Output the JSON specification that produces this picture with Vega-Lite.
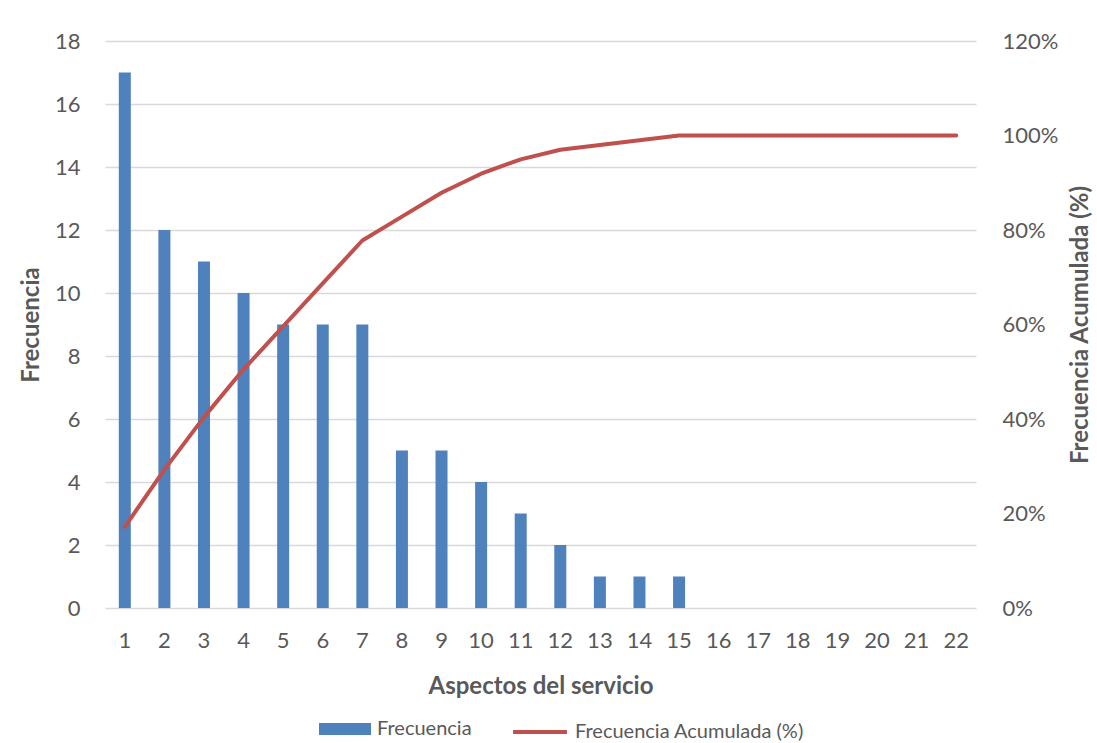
{
  "$schema": "https://vega.github.io/schema/vega-lite/v6.json",
  "width": 871,
  "height": 567,
  "autosize": {"type": "none"},
  "padding": {"left": 105, "top": 41, "right": 121, "bottom": 135},
  "background": "white",
  "data": {
    "values": [
      {"aspecto": 1, "frecuencia": 17, "acumulada": 0.1717},
      {"aspecto": 2, "frecuencia": 12, "acumulada": 0.2929},
      {"aspecto": 3, "frecuencia": 11, "acumulada": 0.4040},
      {"aspecto": 4, "frecuencia": 10, "acumulada": 0.5051},
      {"aspecto": 5, "frecuencia": 9, "acumulada": 0.5960},
      {"aspecto": 6, "frecuencia": 9, "acumulada": 0.6869},
      {"aspecto": 7, "frecuencia": 9, "acumulada": 0.7778},
      {"aspecto": 8, "frecuencia": 5, "acumulada": 0.8283},
      {"aspecto": 9, "frecuencia": 5, "acumulada": 0.8788},
      {"aspecto": 10, "frecuencia": 4, "acumulada": 0.9192},
      {"aspecto": 11, "frecuencia": 3, "acumulada": 0.9495},
      {"aspecto": 12, "frecuencia": 2, "acumulada": 0.9697},
      {"aspecto": 13, "frecuencia": 1, "acumulada": 0.9798},
      {"aspecto": 14, "frecuencia": 1, "acumulada": 0.9899},
      {"aspecto": 15, "frecuencia": 1, "acumulada": 1.0},
      {"aspecto": 16, "frecuencia": 0, "acumulada": 1.0},
      {"aspecto": 17, "frecuencia": 0, "acumulada": 1.0},
      {"aspecto": 18, "frecuencia": 0, "acumulada": 1.0},
      {"aspecto": 19, "frecuencia": 0, "acumulada": 1.0},
      {"aspecto": 20, "frecuencia": 0, "acumulada": 1.0},
      {"aspecto": 21, "frecuencia": 0, "acumulada": 1.0},
      {"aspecto": 22, "frecuencia": 0, "acumulada": 1.0}
    ]
  },
  "config": {
    "font": "Lato",
    "view": {"stroke": null},
    "axis": {
      "labelFont": "Lato",
      "labelColor": "#595959",
      "labelFontSize": 22,
      "titleFont": "Lato",
      "titleColor": "#595959",
      "titleFontWeight": "bold",
      "titleFontSize": 24,
      "domain": false,
      "ticks": false
    },
    "legend": {
      "labelFont": "Lato",
      "labelColor": "#595959",
      "labelFontSize": 20,
      "labelLimit": 400
    }
  },
  "encoding": {
    "x": {
      "field": "aspecto",
      "type": "ordinal",
      "scale": {"paddingInner": 0, "paddingOuter": 0},
      "axis": {
        "title": "Aspectos del servicio",
        "labelAngle": 0,
        "labelPadding": 22,
        "titlePadding": 23,
        "grid": false
      }
    }
  },
  "layer": [
    {
      "mark": {"type": "bar", "size": 12},
      "encoding": {
        "y": {
          "field": "frecuencia",
          "type": "quantitative",
          "scale": {"domain": [0, 18], "nice": false},
          "axis": {
            "title": "Frecuencia",
            "values": [0, 2, 4, 6, 8, 10, 12, 14, 16, 18],
            "grid": true,
            "gridColor": "#d9d9d9",
            "gridWidth": 1.3,
            "labelPadding": 25,
            "titlePadding": 11
          }
        },
        "fill": {
          "datum": "Frecuencia",
          "type": "nominal",
          "scale": {"domain": ["Frecuencia"], "range": ["#4f81bd"]},
          "legend": {
            "title": null,
            "orient": "none",
            "legendX": 214,
            "legendY": 662,
            "symbolType": "M-1,-0.23H1V0.23H-1Z",
            "symbolSize": 2704,
            "symbolStrokeWidth": 0,
            "labelOffset": 6
          }
        }
      }
    },
    {
      "mark": {"type": "line", "strokeWidth": 4, "strokeCap": "round", "strokeJoin": "round"},
      "encoding": {
        "y": {
          "field": "acumulada",
          "type": "quantitative",
          "scale": {"domain": [0, 1.2], "nice": false},
          "axis": {
            "title": "Frecuencia Acumulada (%)",
            "orient": "right",
            "format": ".0%",
            "values": [0, 0.2, 0.4, 0.6, 0.8, 1.0, 1.2],
            "grid": false,
            "labelPadding": 26,
            "titleAngle": 270,
            "titlePadding": 35
          }
        },
        "stroke": {
          "datum": "Frecuencia Acumulada (%)",
          "type": "nominal",
          "scale": {"domain": ["Frecuencia Acumulada (%)"], "range": ["#c0504d"]},
          "legend": {
            "title": null,
            "orient": "none",
            "legendX": 406,
            "legendY": 662,
            "symbolType": "stroke",
            "symbolSize": 2900,
            "symbolStrokeWidth": 4,
            "labelOffset": 6
          }
        }
      }
    }
  ],
  "resolve": {"scale": {"y": "independent"}}
}
